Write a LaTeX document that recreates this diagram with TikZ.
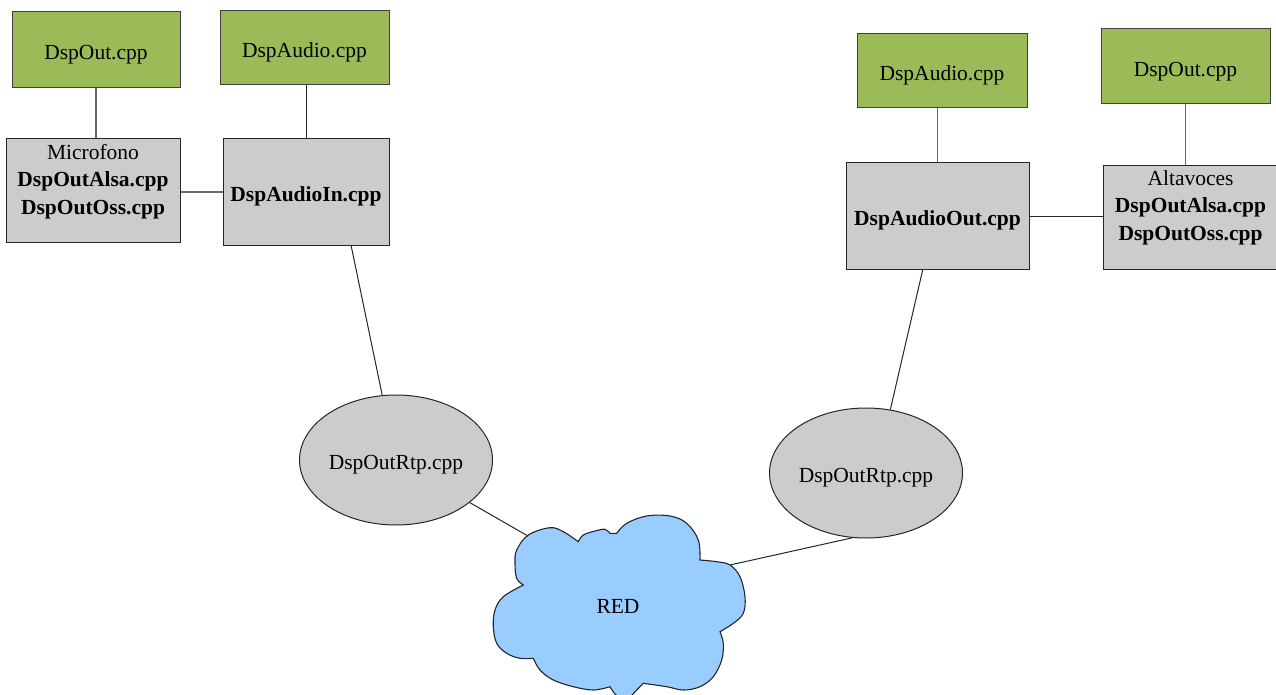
\documentclass[tikz,border=0pt]{standalone}
\usepackage{fontspec}
\setmainfont{Liberation Serif}
\usetikzlibrary{shapes.geometric,calc}
\definecolor{boxgreen}{HTML}{9BBB59}
\definecolor{boxgray}{HTML}{CCCCCC}
\definecolor{cloudblue}{HTML}{99CCFF}
\definecolor{linegray}{HTML}{6A6A6A}
\begin{document}
\begin{tikzpicture}[x=1pt,y=-1pt,
  every node/.style={font=\fontsize{21.5}{27.5}\selectfont, inner sep=0pt},
  lowtext/.style={text height=19.5pt, text depth=0pt},
  greenbox/.style={draw=black!75, fill=boxgreen, line width=1pt, lowtext},
  graybox/.style={draw=black!85, fill=boxgray, line width=1pt},
  rtpnode/.style={ellipse, draw=black!85, fill=boxgray, line width=1pt, minimum width=193pt, minimum height=130pt, lowtext},
  conn/.style={draw=black!85, line width=1pt},
  conngray/.style={draw=linegray, line width=1.3pt},
  cloudshape/.style={draw=black!85, fill=cloudblue, line width=1.1pt}]
\useasboundingbox (0,0) rectangle (1276,695);

% cloud
\path[cloudshape]
  plot[smooth, tension=0.6] coordinates {(523.3,585) (516.7,578.3) (515,563.3) (516.7,550) (528.3,535) (550,527.7) (563.3,531.7) (578.3,541.7)}
  -- plot[smooth, tension=0.6] coordinates {(578.3,541.7) (583.3,535) (595,531) (605,529.3) (610,533.3)}
  -- (616.7,533.3)
  -- plot[smooth, tension=0.6] coordinates {(616.7,533.3) (626.7,523.3) (646.7,516) (670,516) (686.7,523.3) (698.3,540) (700,560)}
  -- plot[smooth, tension=0.6] coordinates {(700,560) (716.7,561.7) (730,565) (740,576.7) (745,596.7) (743.3,613.3) (733.3,623.3) (720,631.7)}
  -- plot[smooth, tension=0.6] coordinates {(720,631.7) (723.3,643.3) (721.7,660) (713.3,676.7) (700,686.7) (683.3,690) (666.7,686.7) (643.3,683.3)}
  -- plot[smooth, tension=0.6] coordinates {(643.3,683.3) (636.7,690) (627,699) (617,696) (610,686.7)}
  -- plot[smooth, tension=0.6] coordinates {(610,686.7) (593.3,690) (573.3,686.7) (553.3,680) (540,670) (533.3,658.3)}
  -- plot[smooth, tension=0.6] coordinates {(533.3,658.3) (520,658.3) (506.7,653.3) (496.7,643.3) (493.3,626.7) (495,610) (503.3,596.7) (523.3,585)}
  -- cycle;
\node[lowtext] (red) at (618,603.5) {RED};
\coordinate (cl1) at (528,536);
\coordinate (cl2) at (730,565);

% left side
\node[greenbox, minimum width=168pt, minimum height=76pt] (g1) at (96,50) {DspOut.cpp};
\node[greenbox, minimum width=169pt, minimum height=74pt] (g2) at (304.5,47.5) {DspAudio.cpp};
\node[graybox, minimum width=174pt, minimum height=103pt] (mic) at (93,190.5) {};
\node[align=center, anchor=north] (mictxt) at ([yshift=-5.5pt]mic.north) {Microfono\\\textbf{DspOutAlsa.cpp}\\\textbf{DspOutOss.cpp}};
\node[graybox, lowtext, minimum width=166pt, minimum height=106pt] (ain) at (306,192) {\textbf{DspAudioIn.cpp}};

% right side
\node[greenbox, minimum width=170pt, minimum height=74pt] (g3) at (942,71) {DspAudio.cpp};
\node[greenbox, minimum width=169pt, minimum height=75pt] (g4) at (1185.5,66.5) {DspOut.cpp};
\node[graybox, lowtext, minimum width=183pt, minimum height=106pt] (aout) at (937.5,216) {\textbf{DspAudioOut.cpp}};
\node[graybox, minimum width=175pt, minimum height=103pt] (alt) at (1190.5,217.5) {};
\node[align=center, anchor=north] (alttxt) at ([yshift=-4.5pt]alt.north) {Altavoces\\\textbf{DspOutAlsa.cpp}\\\textbf{DspOutOss.cpp}};

% ellipses
\node[rtpnode] (rtp1) at (396,460) {DspOutRtp.cpp};
\node[rtpnode] (rtp2) at (866,473) {DspOutRtp.cpp};

% connectors
\draw[conngray] (g1.south) -- (g1.south |- mic.north);
\draw[conn] (ain.north |- g2.south) -- (ain.north);
\draw[conngray] (ain.west) -- (ain.west -| mic.east);
\draw[conn] ($(ain.south west)!0.77!(ain.south east)$) -- (rtp1.102);
\draw[conn] (rtp1.-30) -- (cl1);

\draw[conngray] (aout.north |- g3.south) -- (aout.north);
\draw[conngray] (g4.south) -- (g4.south |- alt.north);
\draw[conn] (aout.east) -- (aout.east -| alt.west);
\draw[conn] ($(aout.south west)!0.42!(aout.south east)$) -- (rtp2.69);
\draw[conn] (rtp2.-102) -- (cl2);
\end{tikzpicture}
\end{document}
